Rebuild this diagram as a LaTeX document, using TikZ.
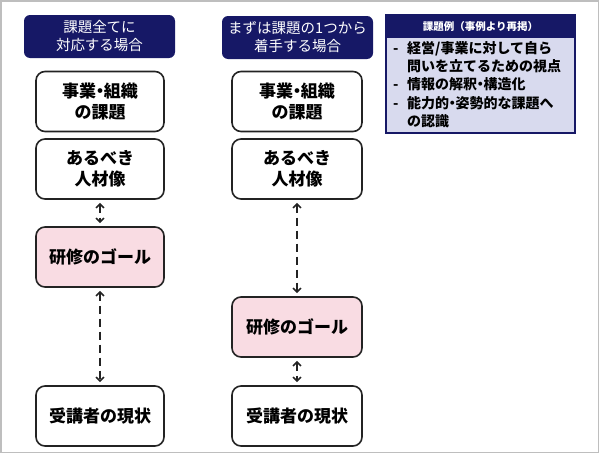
\documentclass[tikz,border=0pt]{standalone}
\usepackage{fontspec}
\setmainfont{Noto Sans CJK JP}
\usetikzlibrary{arrows.meta}
\definecolor{navy}{RGB}{22,24,102}
\definecolor{pinkfill}{RGB}{249,220,227}
\definecolor{lav}{RGB}{216,218,238}
\definecolor{frame}{RGB}{190,190,190}
\definecolor{boxline}{RGB}{35,35,35}
\newcommand{\ndot}{\makebox[0.45em][c]{・}}
\tikzset{
  hdr/.style={fill=navy, rounded corners=6pt, minimum width=151pt, minimum height=43pt,
    text=white, align=center, font=\fontsize{14.5pt}{18pt}\selectfont, inner sep=0pt},
  stepbox/.style={draw=boxline, line width=1.6pt, fill=white, rounded corners=9pt,
    minimum height=60pt, align=center, font=\bfseries\fontsize{17pt}{20.5pt}\selectfont, inner sep=0pt},
  goalbox/.style={stepbox, fill=pinkfill},
  link/.style={draw=boxline, line width=1.8pt, dash pattern=on 8pt off 5pt,
    {Straight Barb[length=4pt,width=8pt,line width=1.6pt]}-{Straight Barb[length=4pt,width=8pt,line width=1.6pt]}},
}
\begin{document}
\begin{tikzpicture}[x=1pt,y=-1pt]
\useasboundingbox (0,0) rectangle (600,455);
\draw[frame, line width=1.5pt] (1,1) rectangle (598.5,452.5);

% headers
\node[hdr] (h1) at (99.5,36.5) {課題全てに\\対応する場合};
\node[hdr] (h2) at (297.5,37.5) {まずは課題の1つから\\着手する場合};

% left column
\node[stepbox, minimum width=128pt] (l1) at (100,101.5) {事業\ndot 組織\\の課題};
\node[stepbox, minimum width=128pt] (l2) at (100,169) {あるべき\\人材像};
\node[goalbox, minimum width=128pt] (l3) at (100,257) {研修のゴール};
\node[stepbox, minimum width=128pt] (l4) at (100,416) {受講者の現状};

% right column
\node[stepbox, minimum width=130pt] (r1) at (297,101.5) {事業\ndot 組織\\の課題};
\node[stepbox, minimum width=130pt] (r2) at (297,169) {あるべき\\人材像};
\node[goalbox, minimum width=130pt] (r3) at (297,327) {研修のゴール};
\node[stepbox, minimum width=130pt] (r4) at (297,416) {受講者の現状};

\draw[link] ([yshift=-3pt]l2.south) -- ([yshift=3pt]l3.north);
\draw[link] ([yshift=-3pt]l3.south) -- ([yshift=3pt]l4.north);
\draw[link] ([yshift=-3pt]r2.south) -- ([yshift=3pt]r3.north);
\draw[link] ([yshift=-3pt]r3.south) -- ([yshift=3pt]r4.north);

% legend
\node[draw=navy, line width=1.3pt, fill=lav, minimum width=189pt, minimum height=118pt, inner sep=0pt] (lg) at (480.5,74) {};
\node[fill=navy, minimum width=189pt, minimum height=23pt, inner sep=0pt, anchor=north,
  text=white, font=\bfseries\fontsize{10.5pt}{12pt}\selectfont] (lgt) at (lg.north) {課題例（事例より再掲）};
\node[anchor=north west, align=left, inner sep=0pt,
  font=\bfseries\fontsize{14pt}{18.3pt}\selectfont] (lgb) at (393,41)
  {\makebox[14pt][l]{-}経営/事業に対して自ら\\
   \makebox[14pt][l]{}問いを立てるための視点\\
   \makebox[14pt][l]{-}情報の解釈\ndot 構造化\\
   \makebox[14pt][l]{-}能力的\ndot 姿勢的な課題へ\\
   \makebox[14pt][l]{}の認識};
\end{tikzpicture}
\end{document}
